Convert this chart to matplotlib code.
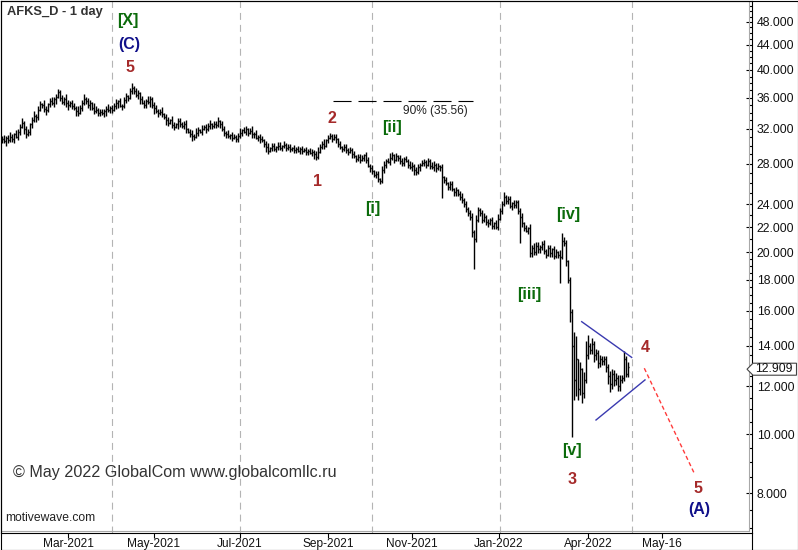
import numpy as np
import matplotlib
matplotlib.use("Agg")
import matplotlib.pyplot as plt
from matplotlib.collections import LineCollection
from matplotlib.lines import Line2D
from matplotlib.patches import Polygon
from matplotlib.ticker import FixedLocator, NullFormatter

plt.rcParams['font.family'] = ['Liberation Sans', 'DejaVu Sans']
plt.rcParams['lines.scale_dashes'] = False

# daily closes AFKS, one bar per trading day
closes = [
    30.7, 30.5, 30.9, 30.6, 31.0, 30.8, 31.3, 31.0, 31.6, 32.2,
    32.7, 31.9, 31.3, 31.6, 32.5, 33.0, 33.6, 33.4, 34.4, 35.1,
    35.0, 34.5, 34.3, 35.1, 35.5, 35.2, 35.8, 36.1, 36.8, 35.9,
    35.4, 35.8, 35.2, 35.0, 35.3, 34.9, 34.6, 34.2, 34.0, 34.6,
    35.2, 35.8, 35.5, 35.0, 35.2, 34.6, 34.2, 34.4, 34.0, 34.1,
    33.9, 34.2, 34.5, 34.3, 34.6, 34.4, 34.9, 35.2, 35.5, 34.9,
    34.8, 35.7, 36.2, 36.0, 36.9, 37.4, 36.9, 36.3, 36.6, 35.8,
    35.3, 35.0, 35.6, 35.4, 35.8, 35.0, 34.6, 34.2, 33.9, 34.1,
    33.8, 33.4, 33.0, 32.7, 33.0, 32.4, 32.2, 32.5, 32.9, 32.6,
    32.3, 32.5, 31.9, 31.6, 31.4, 31.1, 31.0, 31.5, 31.8, 31.6,
    32.0, 32.2, 31.9, 32.3, 32.5, 32.3, 32.6, 32.4, 32.9, 32.5,
    31.9, 31.5, 31.3, 31.1, 31.2, 30.9, 31.0, 30.8, 31.1, 31.5,
    31.8, 31.6, 31.9, 31.5, 31.7, 31.3, 31.4, 30.9, 31.0, 30.7,
    30.6, 30.2, 29.8, 29.4, 29.7, 29.9, 29.6, 29.8, 30.0, 29.7,
    29.9, 30.1, 29.7, 29.8, 29.6, 29.7, 29.5, 29.6, 29.4, 29.6,
    29.4, 29.5, 29.3, 29.4, 29.2, 29.3, 29.0, 28.7, 29.3, 29.8,
    30.2, 30.0, 30.6, 30.9, 31.1, 30.8, 31.0, 30.7, 30.2, 29.8,
    29.6, 29.8, 29.5, 29.3, 29.5, 29.0, 28.8, 28.5, 28.7, 28.4,
    28.6, 28.9, 28.4, 27.8, 27.5, 27.2, 26.8, 26.9, 26.4, 26.2,
    27.3, 27.9, 28.3, 28.2, 28.6, 28.9, 28.4, 28.8, 28.6, 28.3,
    28.1, 28.5, 28.3, 27.9, 27.6, 27.8, 27.3, 27.1, 27.6, 27.9,
    28.1, 28.2, 27.9, 28.3, 27.8, 27.6, 27.9, 27.5, 27.7, 27.6,
    26.6, 26.3, 26.0, 25.6, 25.9, 25.4, 25.1, 25.3, 24.9, 24.7,
    24.4, 24.0, 23.6, 23.2, 22.9, 21.6, 21.0, 22.6, 23.5, 23.2,
    22.6, 22.9, 22.4, 22.3, 22.6, 22.1, 22.3, 22.0, 22.7, 23.4,
    24.0, 24.7, 24.3, 24.5, 23.8, 24.1, 23.9, 24.2, 23.4, 22.9,
    22.3, 21.9, 21.7, 21.9, 19.9, 20.3, 20.0, 20.5, 20.2, 20.4,
    20.6, 20.1, 19.8, 20.3, 19.9, 20.2, 19.7, 20.0, 19.8, 19.6,
    20.9, 20.7, 19.3, 18.0, 15.9, 14.0, 12.3, 13.3, 11.9, 12.8,
    11.7, 12.3, 13.5, 14.0, 13.8, 14.1, 13.5, 13.6, 13.1, 13.3,
    13.2, 13.3, 12.9, 12.5, 12.1, 12.6, 12.3, 12.4, 12.0, 12.3,
    12.4, 13.3, 12.6, 12.909,
]
# upper / lower wick beyond the bar body, in units of WICK (fraction of price)
up = [
    2, 3, 1, 2, 3, 2, 1, 3, 2, 2,
    3, 1, 2, 2, 1, 2, 3, 1, 2, 2,
    1, 3, 2, 1, 2, 3, 1, 2, 2, 1,
    2, 1, 3, 2, 1, 2, 2, 1, 3, 2,
    2, 3, 1, 2, 2, 1, 3, 2, 1, 2,
    2, 1, 2, 3, 1, 2, 2, 3, 1, 2,
    1, 2, 2, 1, 2, 3, 1, 2, 2, 1,
    2, 2, 1, 3, 2, 1, 2, 2, 1, 2,
    3, 1, 2, 2, 1, 3, 2, 1, 2, 2,
    1, 2, 3, 1, 2, 2, 1, 3, 2, 1,
    2, 1, 2, 2, 3, 1, 2, 2, 3, 1,
    2, 2, 1, 3, 1, 2, 2, 1, 2, 3,
    1, 2, 2, 1, 2, 3, 1, 2, 1, 2,
    2, 1, 2, 3, 1, 2, 2, 1, 2, 2,
    1, 2, 1, 2, 2, 1, 2, 1, 2, 1,
    2, 1, 2, 1, 2, 2, 1, 2, 3, 2,
    2, 3, 1, 2, 2, 1, 2, 2, 1, 2,
    1, 2, 2, 1, 2, 1, 2, 1, 2, 2,
    2, 1, 2, 2, 1, 2, 1, 2, 2, 1,
    3, 2, 1, 2, 3, 2, 1, 2, 1, 2,
    2, 1, 2, 1, 2, 2, 1, 2, 2, 1,
    2, 2, 1, 2, 1, 2, 2, 1, 2, 1,
    2, 1, 2, 1, 2, 2, 1, 2, 1, 2,
    2, 1, 2, 1, 2, 2, 1, 3, 2, 1,
    2, 2, 1, 2, 1, 2, 1, 2, 3, 2,
    2, 3, 1, 2, 2, 1, 2, 1, 1, 2,
    2, 1, 2, 1, 3, 2, 3, 2, 2, 1,
    2, 3, 1, 2, 2, 1, 2, 2, 1, 3,
    5, 2, 2, 1, 2, 2, 9, 15, 0, 5,
    1, 5, 9, 7, 2, 4, 2, 3, 2, 3,
    2, 2, 2, 2, 3, 3, 2, 3, 2, 3,
    2, 5, 2, 3,
]
dn = [
    2, 1, 3, 2, 1, 2, 3, 1, 2, 2,
    1, 3, 2, 1, 2, 2, 1, 3, 2, 1,
    2, 2, 3, 1, 2, 1, 2, 3, 1, 2,
    1, 2, 2, 3, 1, 2, 1, 3, 2, 1,
    2, 1, 2, 2, 3, 1, 2, 1, 2, 2,
    1, 2, 3, 1, 2, 2, 1, 2, 3, 1,
    2, 1, 2, 2, 1, 2, 2, 1, 2, 3,
    1, 2, 2, 1, 3, 2, 4, 1, 2, 1,
    2, 1, 3, 2, 1, 2, 2, 1, 3, 2,
    1, 2, 2, 1, 2, 3, 2, 1, 2, 1,
    2, 1, 2, 1, 2, 2, 1, 2, 1, 2,
    1, 2, 2, 1, 2, 2, 1, 2, 2, 1,
    2, 1, 2, 2, 1, 2, 2, 1, 2, 2,
    1, 2, 3, 2, 1, 2, 1, 2, 2, 1,
    2, 1, 2, 1, 2, 1, 2, 2, 1, 2,
    2, 1, 2, 2, 1, 2, 3, 2, 1, 1,
    1, 2, 1, 2, 1, 2, 1, 2, 2, 1,
    2, 1, 2, 2, 1, 2, 1, 2, 1, 2,
    1, 2, 2, 1, 2, 2, 1, 2, 2, 2,
    1, 2, 2, 1, 2, 1, 2, 1, 2, 2,
    2, 2, 1, 2, 1, 2, 3, 2, 1, 2,
    1, 2, 2, 1, 2, 1, 2, 2, 1, 2,
    13, 2, 1, 2, 2, 1, 2, 2, 1, 2,
    2, 2, 2, 2, 2, 3, 19, 2, 1, 2,
    2, 1, 2, 2, 1, 2, 2, 1, 2, 1,
    2, 1, 2, 2, 1, 2, 2, 2, 2, 17,
    2, 2, 1, 2, 2, 2, 2, 2, 2, 2,
    2, 2, 2, 1, 2, 2, 2, 1, 2, 16,
    1, 2, 3, 2, 6, 58, 13, 10, 7, 4,
    6, 3, 2, 2, 3, 3, 4, 3, 3, 2,
    2, 2, 3, 5, 5, 3, 4, 3, 3, 3,
    2, 2, 2, 2,
]
WICK = 0.006

# axis labels (x in bar units)
xtick_pos = [34, 77, 120, 164, 206, 249.5, 294, 331]
xtick_lab = ['Mar-2021', 'May-2021', 'Jul-2021', 'Sep-2021', 'Nov-2021',
             'Jan-2022', 'Apr-2022', 'May-16']
grid_pos = [56, 120, 186, 250, 316]
ytick_vals = [8, 10, 12, 14, 16, 18, 20, 22, 24, 28, 32, 36, 40, 44, 48]

GREEN = '#0b6b0b'
NAVY = '#10108a'
RED = '#a52a2a'
waves = [
    ('[X]', 64, 48.2, GREEN), ('(C)', 64.75, 44.1, NAVY), ('5', 65, 40.3, RED),
    ('2', 166, 33.3, RED), ('1', 158.75, 26.2, RED),
    ('[i]', 186.5, 23.65, GREEN), ('[ii]', 196, 32.1, GREEN),
    ('[iii]', 264.5, 16.99, GREEN), ('[iv]', 284.25, 23.1, GREEN),
    ('[v]', 286, 9.39, GREEN), ('3', 286.25, 8.42, RED),
    ('4', 322.75, 13.94, RED), ('5', 348.75, 8.15, RED), ('(A)', 349.75, 7.50, NAVY),
]
# triangle boundaries and projected wave 5
tri_upper = ([290.85, 315.85], [15.35, 13.40])
tri_lower = ([298.0, 322.5], [10.56, 12.30])
proj = ([322.15, 347.15], [12.86, 8.62])
fib_x = [166.5, 236.5]
fib_level = 35.56

W, H = 798, 550
fig = plt.figure(figsize=(W / 100, H / 100), dpi=100)
ax = fig.add_axes([1 / W, 17 / H, 751 / W, 532 / H])

c = np.array(closes)
o = np.concatenate([[c[0]], c[:-1]])
hi = np.maximum(o, c) * np.exp(WICK * np.array(up))
lo = np.minimum(o, c) * np.exp(-WICK * np.array(dn))
x = np.arange(1, len(c) + 1)

segs = []
for xi, oi, hii, loi, ci in zip(x, o, hi, lo, c):
    segs.append([(xi, loi), (xi, hii)])
    segs.append([(xi - 0.5, oi), (xi, oi)])
    segs.append([(xi, ci), (xi + 0.5, ci)])
ax.add_collection(LineCollection(segs, colors='black', linewidths=1.0))

for g in grid_pos:
    ax.axvline(g, color='#b4b4b4', lw=0.8, ls=(0, (5, 3.6)), zorder=0)

ax.set_yscale('log')
ax.set_xlim(0.5, 376)
ax.set_ylim(6.871, 51.98)

ax.yaxis.tick_right()
ax.yaxis.set_major_locator(FixedLocator(ytick_vals))
ax.set_yticklabels(['%.3f' % v for v in ytick_vals])
minor = [v / 2 for v in range(14, 40)] + list(range(20, 52))
minor = [v for v in minor if v not in ytick_vals]
ax.yaxis.set_minor_locator(FixedLocator(minor))
ax.yaxis.set_minor_formatter(NullFormatter())
ax.tick_params(axis='y', which='major', direction='in', length=4, width=0.8,
               pad=3.5, labelsize=8.8, labelcolor='#111111')
ax.tick_params(axis='y', which='minor', direction='in', length=2, width=0.8)

ax.set_xticks(xtick_pos)
ax.set_xticklabels(xtick_lab)
ax.tick_params(axis='x', direction='out', length=3.6, width=0.8, pad=0,
               labelsize=8.6, labelcolor='#111111')
for sp in ax.spines.values():
    sp.set_color('black')
    sp.set_linewidth(0.8)

# grey inner frame of the price panel
ax.plot([0, 0.996], [0.004, 0.004], transform=ax.transAxes, color='#a8a8a8', lw=0.8)
ax.plot([0.996, 0.996], [0.004, 1], transform=ax.transAxes, color='#a8a8a8', lw=0.8)

# wave labels
for txt, xx, yy, col in waves:
    ax.text(xx, yy, txt, color=col, fontsize=11.5, fontweight='bold',
            ha='center', va='center')

ax.plot(*tri_upper, color='#3a3ab0', lw=1)
ax.plot(*tri_lower, color='#3a3ab0', lw=1)
ax.plot(*proj, color='#ff3b3b', lw=1, ls=(0, (3, 2)))

ax.plot(fib_x, [fib_level, fib_level], color='black', lw=0.8, ls=(0, (13, 5)))
ax.text(201.5, 34.25, '90% (35.56)', fontsize=8.6, color='#222222',
        ha='left', va='center')

ax.text(0.008, 0.979, 'AFKS_D - 1 day', transform=ax.transAxes, fontsize=9.3,
        fontweight='bold', color='#333333', ha='left', va='center')
ax.text(0.016, 0.1128, '\u00a9 May 2022 GlobalCom www.globalcomllc.ru',
        transform=ax.transAxes, fontsize=11.6, color='#333333', ha='left', va='center')
ax.text(0.0053, 0.028, 'motivewave.com', transform=ax.transAxes, fontsize=8.7,
        color='#222222', ha='left', va='center')

# last price marker on the axis
_, yd = ax.transData.transform((1, closes[-1]))
yd -= 2
def fpt(px, py):
    return (px / W, py / H)
pts = [fpt(747, yd), fpt(753, yd + 6), fpt(796.5, yd + 6), fpt(796.5, yd - 6), fpt(753, yd - 6)]
fig.add_artist(Polygon(pts, closed=True, facecolor='white', edgecolor='#444444',
                       lw=0.8, transform=fig.transFigure, zorder=5))
fig.text(755 / W, yd / H, '%.3f' % closes[-1], fontsize=8.8, color='#111111',
         ha='left', va='center', zorder=6)

# outer frame
def fline(xs, ys):
    fig.add_artist(Line2D([v / W for v in xs], [1 - v / H for v in ys],
                          color='black', lw=0.8, transform=fig.transFigure))
fline([752, 752], [533, 550])
fline([0.5, 797.5, 797.5, 0.5, 0.5], [0.5, 0.5, 549.5, 549.5, 0.5])

fig.savefig('out.png', dpi=100, facecolor='white')
